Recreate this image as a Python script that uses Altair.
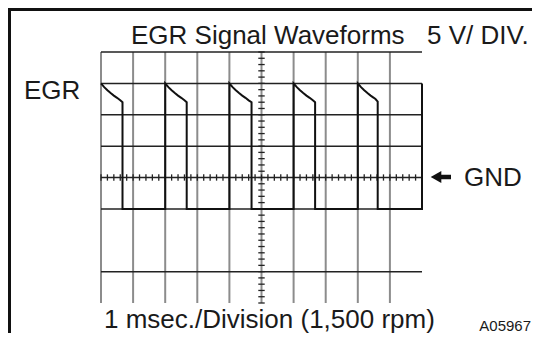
import altair as alt
import pandas as pd

# ---- data ----
vgrid_t = [0, 1, 2, 3, 4, 5, 6, 7, 8, 9]          # vertical graticule (divisions)
hgrid_v = [4, 3, 2, 1, 0, -1, -3]                 # horizontal graticule (divisions, GND = 0)
minor_v = [round(-4 + 0.2 * k, 2) for k in range(41)]   # minor ticks on centre line
minor_t = [round(0.2 * k, 2) for k in range(51)]        # minor ticks on GND line

wave_t = [0.0, 0.1, 0.2, 0.3, 0.4, 0.5, 0.6, 0.67, 0.67,
          2.0, 2.0, 2.1, 2.2, 2.3, 2.4, 2.5, 2.6, 2.67, 2.67,
          4.0, 4.0, 4.1, 4.2, 4.3, 4.4, 4.5, 4.6, 4.69, 4.69,
          6.0, 6.0, 6.1, 6.2, 6.3, 6.4, 6.5, 6.6, 6.67, 6.67,
          8.0, 8.0, 8.1, 8.2, 8.3, 8.4, 8.5, 8.55, 8.62, 8.62,
          10.0, 10.0]
wave_v = [3.0, 2.88, 2.78, 2.69, 2.61, 2.54, 2.46, 2.4, -1.0,
          -1.0, 3.0, 2.88, 2.78, 2.69, 2.61, 2.54, 2.46, 2.4, -1.0,
          -1.0, 3.0, 2.88, 2.78, 2.69, 2.61, 2.54, 2.46, 2.4, -1.0,
          -1.0, 3.0, 2.88, 2.78, 2.69, 2.61, 2.54, 2.46, 2.4, -1.0,
          -1.0, 3.0, 2.88, 2.78, 2.69, 2.61, 2.54, 2.5, 2.42, -1.0,
          -1.0, 3.0]

title_txt = "EGR Signal Waveforms"
scale_txt = "5 V/ DIV."
chan_txt = "EGR"
gnd_txt = "GND"
time_txt = "1 msec./Division (1,500 rpm)"
code_txt = "A05967"

XS = alt.Scale(domain=[0, 10], nice=False, zero=False)
YS = alt.Scale(domain=[-4, 4], nice=False, zero=False)
FONT = "Liberation Sans"
TXT = "#1a1a1a"

vgrid = pd.DataFrame({"t": vgrid_t, "y1": 4, "y2": -4})
hgrid = pd.DataFrame({"v": hgrid_v, "x1": 0, "x2": 10})
cticks = pd.DataFrame({"v": minor_v, "x1": 4.9, "x2": 5.1})
gticks = pd.DataFrame({"t": minor_t, "y1": -0.1, "y2": 0.1})
wave = pd.DataFrame({"t": wave_t, "v": wave_v, "i": list(range(len(wave_t)))})
one = pd.DataFrame({"a": [0]})

l_v = alt.Chart(vgrid).mark_rule(color="#8c8c8c", strokeWidth=2).encode(
    x=alt.X("t:Q", scale=XS, axis=None),
    y=alt.Y("y1:Q", scale=YS, axis=None), y2="y2:Q")
l_h = alt.Chart(hgrid).mark_rule(color="#222222", strokeWidth=1.5).encode(
    x=alt.X("x1:Q", scale=XS, axis=None), x2="x2:Q",
    y=alt.Y("v:Q", scale=YS, axis=None))
l_ct = alt.Chart(cticks).mark_rule(color="#222222", strokeWidth=1.3).encode(
    x=alt.X("x1:Q", scale=XS, axis=None), x2="x2:Q",
    y=alt.Y("v:Q", scale=YS, axis=None))
l_gt = alt.Chart(gticks).mark_rule(color="#222222", strokeWidth=1.3).encode(
    x=alt.X("t:Q", scale=XS, axis=None),
    y=alt.Y("y1:Q", scale=YS, axis=None), y2="y2:Q")
l_w = alt.Chart(wave).mark_line(color="#111111", strokeWidth=2, strokeJoin="miter").encode(
    x=alt.X("t:Q", scale=XS, axis=None),
    y=alt.Y("v:Q", scale=YS, axis=None),
    order="i:Q")


def txt(s, x, y, size, align="left", baseline="alphabetic"):
    return alt.Chart(one).mark_text(font=FONT, fontSize=size, color=TXT,
                                    align=align, baseline=baseline).encode(
        x=alt.value(x), y=alt.value(y), text=alt.value(s))


texts = [
    txt(title_txt, 30, -8, 26),
    txt(scale_txt, 326, -8, 26),
    txt(chan_txt, -77, 47, 26),
    txt(gnd_txt, 363, 134, 26),
    txt(time_txt, 3, 276, 26),
    txt(code_txt, 430, 279, 15, align="right"),
]

# arrow pointing to GND
arrow_shaft = alt.Chart(one).mark_rule(color="#111111", strokeWidth=4.5).encode(
    x=alt.value(338), x2=alt.value(350), y=alt.value(125))
arrow_head = alt.Chart(one).mark_point(shape="triangle-left", filled=True, color="#111111",
                                       size=150, opacity=1).encode(
    x=alt.value(335), y=alt.value(125))

# frame (left and top edges)
frame_l = alt.Chart(one).mark_rule(color="#111111", strokeWidth=3).encode(
    x=alt.value(-91.5), y=alt.value(-44), y2=alt.value(290))
frame_t = alt.Chart(one).mark_rule(color="#111111", strokeWidth=3).encode(
    x=alt.value(-93), x2=alt.value(440), y=alt.value(-42.5))

chart = alt.layer(l_v, l_h, l_ct, l_gt, l_w, arrow_shaft, arrow_head, frame_l, frame_t,
                  *texts).properties(
    width=321, height=251,
    padding={"left": 93, "top": 44, "right": 110, "bottom": 30},
    autosize=alt.AutoSizeParams(type="none"),
    background="white",
).configure_view(stroke=None)

chart.save("out.html", embed_options={"renderer": "svg", "actions": False})
